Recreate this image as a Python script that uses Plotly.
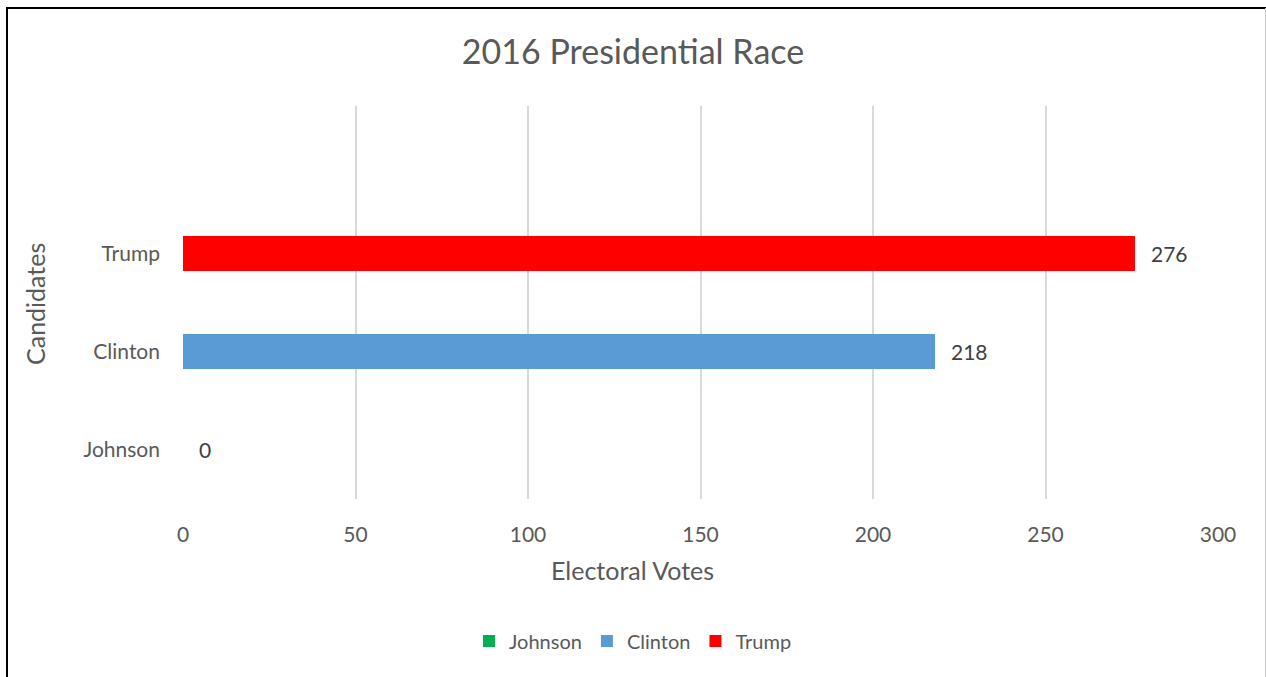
import plotly.graph_objects as go

candidates = ["Johnson", "Clinton", "Trump"]
votes = [0, 218, 276]
colors = ["#00B050", "#5B9BD5", "#FF0000"]
cat_labels = ["Johnson", "Clinton", "Trump"]

FONT = "Lato, Open Sans, sans-serif"
TXT = "#595959"

W, H = 1266, 677
ML, MR, MT, MB = 183, 48, 106, 178
PW, PH = W - ML - MR, H - MT - MB


def px2x(px):
    return (px - ML) / PW


def py2y(py):
    return 1 - (py - MT) / PH


fig = go.Figure()
for i, (name, v, c) in enumerate(zip(candidates, votes, colors)):
    fig.add_trace(go.Bar(
        y=[i], x=[v], name=name, orientation="h",
        marker=dict(color=c, line=dict(width=0)),
        width=0.35, hoverinfo="x+name",
    ))
    fig.add_annotation(
        x=v, y=i, xref="x", yref="y", text=str(v), showarrow=False,
        xanchor="left", yanchor="middle", xshift=14,
        font=dict(family=FONT, size=21, color="#404040"),
    )

# axis titles
fig.add_annotation(text="Electoral Votes", xref="paper", yref="paper",
                   x=px2x(632), y=py2y(570), showarrow=False,
                   xanchor="center", yanchor="middle",
                   font=dict(family=FONT, size=25, color=TXT))
fig.add_annotation(text="Candidates", xref="paper", yref="paper",
                   x=px2x(35), y=py2y(304), showarrow=False, textangle=-90,
                   xanchor="center", yanchor="middle",
                   font=dict(family=FONT, size=25, color=TXT))

shapes = [
    dict(type="line", xref="paper", yref="paper",
         x0=px2x(7), x1=px2x(7), y0=py2y(8), y1=py2y(677),
         line=dict(color="black", width=2)),
    dict(type="line", xref="paper", yref="paper",
         x0=px2x(6), x1=px2x(1266), y0=py2y(8), y1=py2y(8),
         line=dict(color="black", width=2)),
    dict(type="line", xref="paper", yref="paper",
         x0=px2x(1265.5), x1=px2x(1265.5), y0=py2y(8), y1=py2y(677),
         line=dict(color="#C8C8C8", width=1)),
]

fig.update_layout(
    width=W, height=H,
    margin=dict(l=ML, r=MR, t=MT, b=MB, pad=0),
    paper_bgcolor="white", plot_bgcolor="white",
    barmode="overlay",
    bargap=0,
    title=dict(text="2016 Presidential Race", x=0.5, xref="container",
               y=1 - 52 / H, yanchor="middle", xanchor="center",
               font=dict(family=FONT, size=34, color=TXT)),
    font=dict(family=FONT, color=TXT),
    showlegend=True,
    legend=dict(orientation="h", x=0.5, xanchor="center", xref="container",
                y=1 - 641 / H, yref="container", yanchor="middle",
                font=dict(family=FONT, size=20, color=TXT),
                itemwidth=30, traceorder="normal", itemsizing="constant"),
    shapes=shapes,
)

fig.update_xaxes(
    range=[0, 300], dtick=50, tick0=0,
    showgrid=True, gridcolor="#D9D9D9", gridwidth=1.5,
    zeroline=False, showline=False, ticks="",
    ticklabelstandoff=21,
    tickfont=dict(family=FONT, size=21, color=TXT),
)
fig.update_yaxes(
    range=[-0.5, 3.5], tickvals=[0, 1, 2], ticktext=cat_labels,
    showgrid=False, zeroline=False, showline=False, ticks="",
    ticklabelstandoff=22,
    tickfont=dict(family=FONT, size=21, color=TXT),
)

fig.write_html("out.html")
